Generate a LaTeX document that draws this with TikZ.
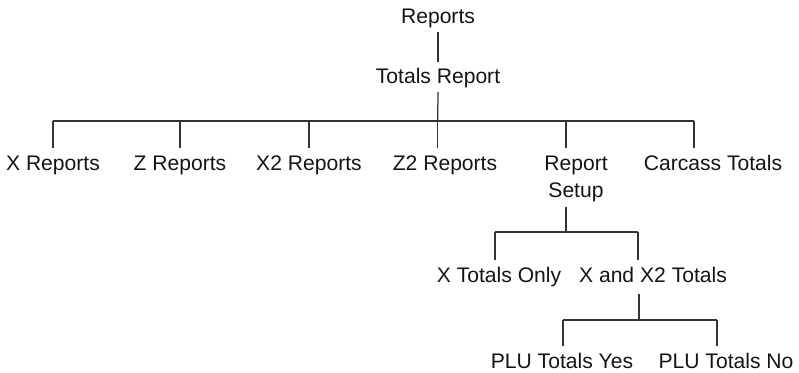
\documentclass[tikz,border=0pt]{standalone}
\usepackage{fontspec}
\setmainfont{Liberation Sans}
\usetikzlibrary{calc}
\begin{document}
\begin{tikzpicture}[x=1pt,y=-1pt,
  lbl/.style={anchor=base,inner sep=0pt,outer sep=0pt,text height=15pt,text depth=4.5pt,
    font=\fontsize{21.1}{27}\selectfont,text=black!92},
  wire/.style={draw=black!80,line width=1.25pt}]
\useasboundingbox (0,0) rectangle (799,372);

% labels
\node[lbl] (rep) at (438,23) {Reports};
\node[lbl] (tot) at (438,83) {Totals Report};
\node[lbl] (xr)  at (53,170)  {X Reports};
\node[lbl] (zr)  at (180,170) {Z Reports};
\node[lbl] (x2r) at (309,170) {X2 Reports};
\node[lbl] (z2r) at (445,170) {Z2 Reports};
\node[lbl] (rs)  at (576,170) {Report};
\node[lbl] (rs2) at (576,197) {Setup};
\node[lbl] (ct)  at (713,170) {Carcass Totals};
\node[lbl] (xto) at (499,282) {X Totals Only};
\node[lbl] (xx2) at (653,282) {X and X2 Totals};
\node[lbl] (ply) at (562,368) {PLU Totals Yes};
\node[lbl] (pln) at (726,368) {PLU Totals No};

% junction points on the bars
\coordinate (b-xr)  at (53,121);
\coordinate (b-zr)  at (180,121);
\coordinate (b-x2r) at (309,121);
\coordinate (b-z2r) at (437.7,121);
\coordinate (b-rs)  at (566,121);
\coordinate (b-ct)  at (694,121);
\coordinate (c-rs)  at (566,232);
\coordinate (c-xto) at (495,232);
\coordinate (c-xx2) at (638,232);
\coordinate (d-xx2) at (639,320);
\coordinate (d-ply) at (563,320);
\coordinate (d-pln) at (717,320);

% Reports -> Totals Report
\draw[wire] ($(rep.south)+(0,4.5)$) -- ($(tot.north)+(0,-6)$);

% Totals Report -> first level
\draw[wire] ($(tot.south)+(0,4.5)$) -- (b-z2r);
\draw[wire] (b-xr) -- (b-ct);
\foreach \j/\n in {xr/xr,zr/zr,x2r/x2r,z2r/z2r,rs/rs,ct/ct}
  \draw[wire] (b-\j) -- ($(b-\j |- \n.north)+(0,-7)$);

% Report Setup -> options
\draw[wire] ($(c-rs |- rs2.south)+(0,5.5)$) -- (c-rs);
\draw[wire] (c-xto) -- (c-xx2);
\draw[wire] (c-xto) -- ($(c-xto |- xto.north)+(0,-7)$);
\draw[wire] (c-xx2) -- ($(c-xx2 |- xx2.north)+(0,-7)$);

% X and X2 Totals -> PLU options
\draw[wire] ($(d-xx2 |- xx2.south)+(0,7.5)$) -- (d-xx2);
\draw[wire] (d-ply) -- (d-pln);
\draw[wire] (d-ply) -- ($(d-ply |- ply.north)+(0,-7)$);
\draw[wire] (d-pln) -- ($(d-pln |- pln.north)+(0,-7)$);
\end{tikzpicture}
\end{document}
